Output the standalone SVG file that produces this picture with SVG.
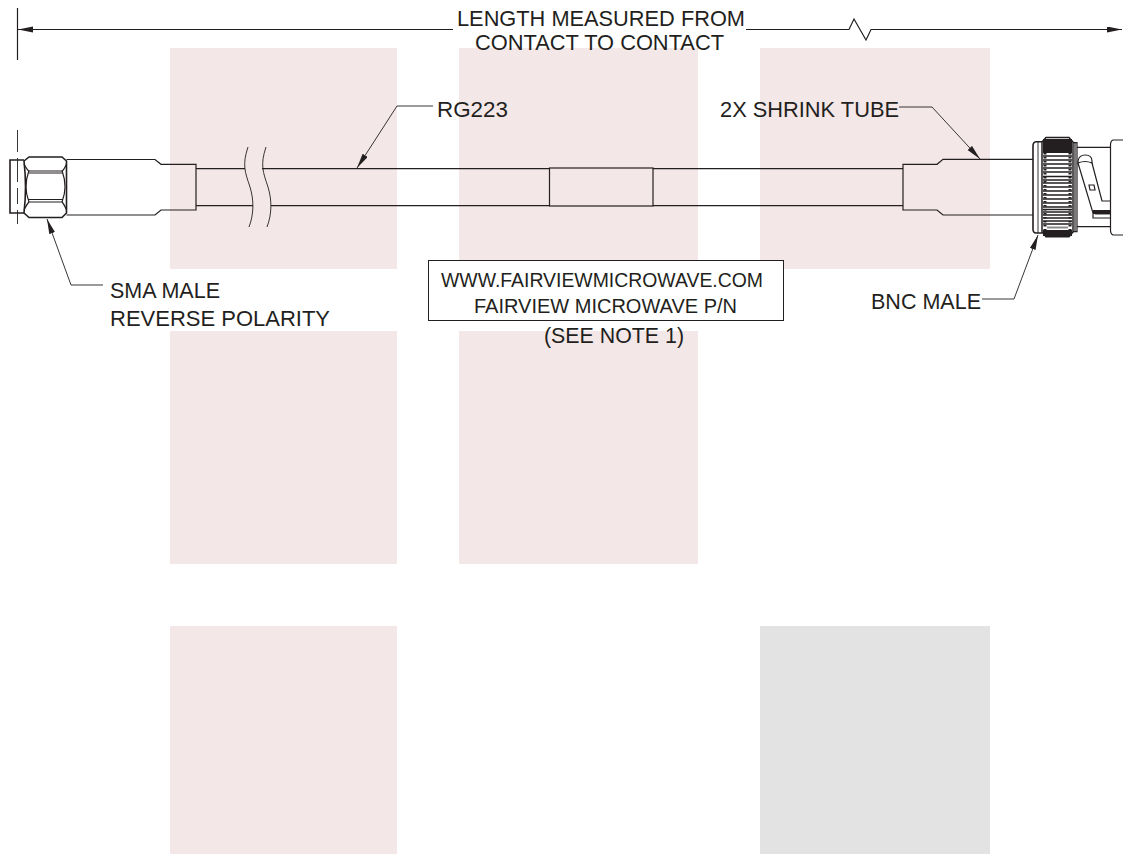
<svg xmlns="http://www.w3.org/2000/svg" width="1123" height="854" viewBox="0 0 1123 854">
<style>
.p{fill:#f4e7e7}.g{fill:#e3e3e3}
.l{fill:none;stroke:#231f20;stroke-width:1.2}
.h{fill:none;stroke:#231f20;stroke-width:1.6}
.t{fill:none;stroke:#231f20;stroke-width:.9}
text{font-family:"Liberation Sans",Arial,sans-serif;font-size:21.700px;fill:#231f20}
text.s{font-size:20px}
</style>
<defs>
<marker id="a" markerUnits="userSpaceOnUse" markerWidth="16" markerHeight="8" refX="15" refY="3" orient="auto"><path d="M0 0L15 3L0 6z" fill="#231f20"/></marker>
</defs>
<g id="background">
<rect class="p" x="170" y="48" width="227" height="221"/><rect class="p" x="459" y="48" width="239" height="221"/><rect class="p" x="760" y="48" width="230" height="221"/>
<rect class="p" x="170" y="331" width="227" height="233"/><rect class="p" x="459" y="331" width="239" height="233"/>
<rect class="p" x="170" y="626" width="227" height="228"/><rect class="g" x="760" y="626" width="230" height="228"/>
</g>
<g id="connectors">
<path class="l" d="M17.5 8V60"/>
<path class="t" d="M17.500 130V152M17.500 158V182M17.500 188V204M17.500 210V224"/>
<path class="l" marker-end="url(#a)" d="M453 29.500H18"/>
<path class="l" marker-end="url(#a)" d="M746 29.500H849L854 19L866 40L871 29.500H1122"/>
<path class="t" marker-end="url(#a)" d="M103 285H71L47 219"/>
<path class="t" marker-end="url(#a)" d="M433 106H397L357 168"/>
<path class="t" marker-end="url(#a)" d="M899 107H932L980 159"/>
<path class="t" marker-end="url(#a)" d="M982 299H1014L1038 235"/>
</g>
<g id="cable">
<path class="l" d="M196 168.700H245M262 168.700H549.500M653 168.700H903M196 205.700H253M271 205.700H549.500M653 205.700H903"/>
<path class="t" d="M248 147C242 165 245 172 250 187C254 200 254 214 249 227M266 147C260 165 263 172 268 187C272 200 272 214 267 227"/>
<rect class="l" x="549.500" y="168" width="103.500" height="38"/>
</g>
<g id="sma-connector">
<path class="h" d="M24 160H10V213H24"/>
<path class="h" d="M24 161L29 157H62L66.500 161V213L62 217.500H29L24 213Q27 187 24 161Z"/>
<path class="l" d="M24 164Q27 170 29 171H62Q64 170 66.500 164M24 210Q27 204 29 202H62Q64 204 66.500 210"/>
<path class="l" d="M29 170.500Q23 187 29 202M62 170.500Q68 187 62 202"/>
<path class="l" d="M29 173H62M28 199.500H63"/>
<path class="l" d="M66.500 159.500H155L161 164.300H196V210H161L155 215H66.500"/>
</g>
<g id="shrink-tube-right">
<path class="l" d="M903 206V164.300H937L943 159.300H1033M903 206V210H937L943 215H1033"/>
</g>
<g id="bnc-connector">
<path class="h" d="M1042 141.700H1036Q1033 142 1033 146V229Q1033 233 1036 233H1042"/>
<path class="t" d="M1038 142V233"/>
<path d="M1042 142L1046 137.500H1069L1073 142V232L1069 236.700H1046L1042 232Z" fill="#fff" stroke="#231f20" stroke-width="1.500"/>
<path d="M1043 139H1072V153H1043ZM1043 230H1072V236H1043Z" fill="#231f20"/>
<path stroke="#231f20" stroke-width="1.600" fill="none" d="M1043 156H1072M1043 160H1072M1043 164H1072M1043 168H1072M1043 172H1072M1043 176.500H1072M1043 180H1072M1043 183H1072M1043 187H1072M1043 191H1072M1043 195H1072M1043 199H1072M1043 203H1072M1043 207H1072M1043 209.500H1072M1043 212H1072M1043 215H1072M1043 218H1072M1043 221H1072M1043 224H1072"/>
<path stroke="#8a8a8a" stroke-width="2" d="M1047 227.500H1068"/>
<path stroke="#231f20" stroke-width="3" stroke-dasharray="1.500 2.500" d="M1045 153V230M1070 153V230"/>
<path class="l" d="M1073 142.700H1077V231.700H1073M1075 142.700V231.700"/>
<path class="l" d="M1077 147.300H1110.500M1077 226.700H1110.500"/>
<path class="l" d="M1123 140H1113Q1110.500 141 1110.500 145V230Q1110.500 234 1113 235H1123"/>
<path class="l" d="M1078 163V161Q1079 155 1085 155Q1092 155 1092 161V163Q1085 160 1078 163Z"/>
<path class="l" d="M1078 163L1093 213V218H1110M1092 163L1102 201H1110"/>
<path class="l" d="M1089 185H1094L1095 190H1090Z"/>
<path d="M1093 210H1110V214H1093Z" fill="#231f20"/>
<path class="t" d="M1095 214H1110"/>
</g>
<g id="note-box"><rect x="428.500" y="260.500" width="355" height="60" fill="#fff" stroke="#231f20"/></g>
<g id="labels">
<text x="457" y="25.500" textLength="288" lengthAdjust="spacingAndGlyphs">LENGTH MEASURED FROM</text>
<text x="475" y="49.500" textLength="249" lengthAdjust="spacingAndGlyphs">CONTACT TO CONTACT</text>
<text x="437" y="117" textLength="71" lengthAdjust="spacingAndGlyphs">RG223</text>
<text x="720" y="117" textLength="179" lengthAdjust="spacingAndGlyphs">2X SHRINK TUBE</text>
<text x="110" y="297.500" textLength="110" lengthAdjust="spacingAndGlyphs">SMA MALE</text>
<text x="110" y="326" textLength="220" lengthAdjust="spacingAndGlyphs">REVERSE POLARITY</text>
<text x="871" y="309" textLength="110" lengthAdjust="spacingAndGlyphs">BNC MALE</text>
<text class="s" x="441" y="286.500" textLength="322" lengthAdjust="spacingAndGlyphs">WWW.FAIRVIEWMICROWAVE.COM</text>
<text class="s" x="474" y="313" textLength="263" lengthAdjust="spacingAndGlyphs">FAIRVIEW MICROWAVE P/N</text>
<text x="544" y="343" textLength="140" lengthAdjust="spacingAndGlyphs">(SEE NOTE 1)</text>
</g>
</svg>
